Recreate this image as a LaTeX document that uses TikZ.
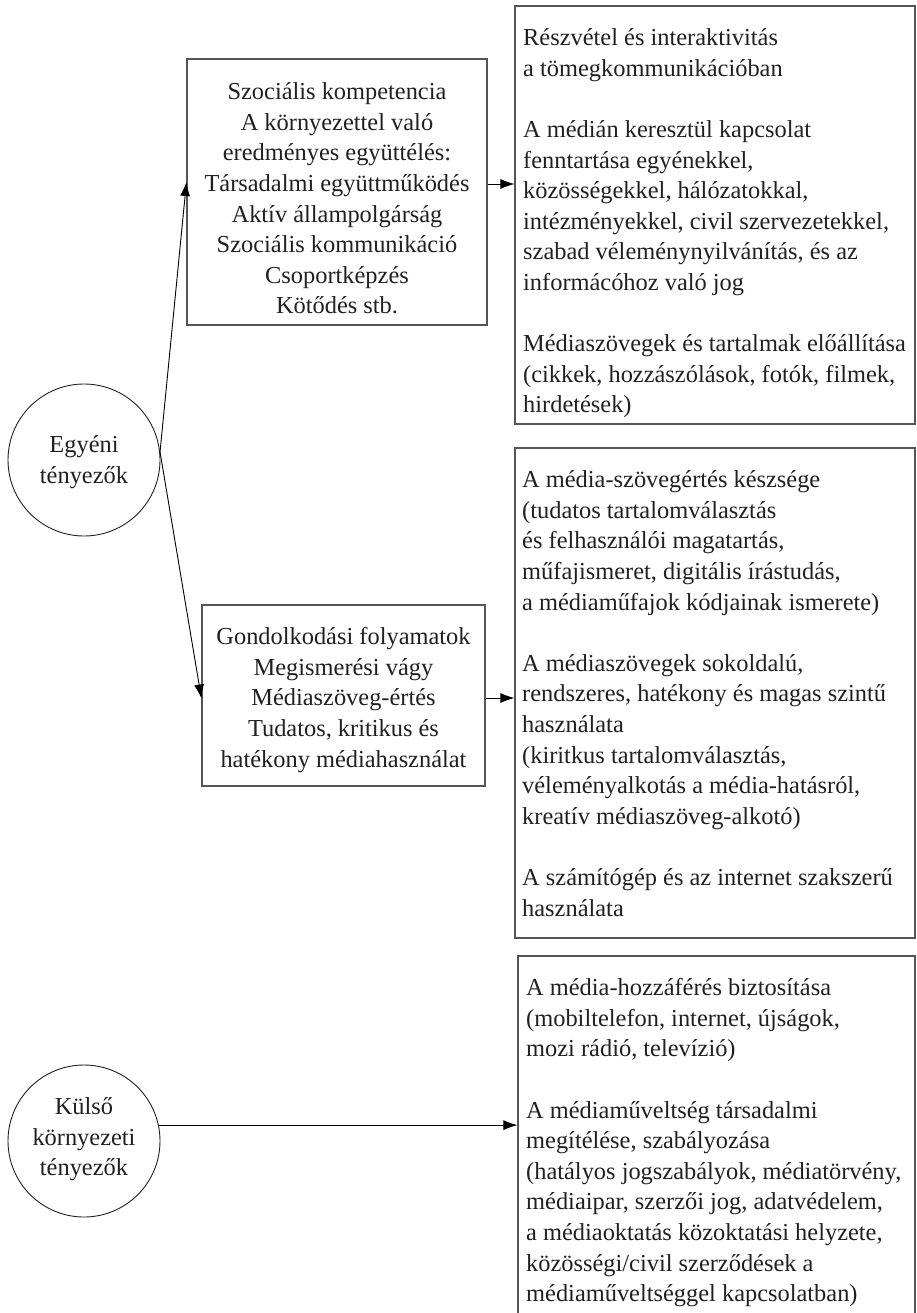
\documentclass[tikz,border=0pt]{standalone}
\usepackage{fontspec}
\setmainfont{Liberation Serif}
\usetikzlibrary{arrows.meta}
\definecolor{boxgray}{RGB}{85,85,85}
\definecolor{txtcol}{RGB}{35,31,32}
\begin{document}
\begin{tikzpicture}[x=1pt,y=-1pt,
  box/.style={draw=boxgray, line width=1.1pt, inner sep=0pt},
  ring/.style={draw=txtcol, line width=0.9pt, circle, inner sep=0pt, minimum size=152pt},
  txt/.style={inner sep=0pt, text=txtcol, font=\fontsize{24.4}{30.6}\selectfont},
  arr/.style={-{Latex[length=14pt,width=10pt]}, line width=0.9pt, draw=black}]
\useasboundingbox (0,0) rectangle (917,1313);
% boxes
\node[box, minimum width=300pt, minimum height=266pt] (s1) at (337,192) {};
\node[box, minimum width=283pt, minimum height=181pt] (s2) at (343.5,695.5) {};
\node[box, minimum width=400pt, minimum height=418pt] (b1) at (715,215) {};
\node[box, minimum width=400pt, minimum height=490pt] (b2) at (715,693) {};
\node[box, minimum width=397pt, minimum height=368pt] (b3) at (716.5,1140) {};
\node[ring] (c1) at (84,460) {};
\node[ring] (c2) at (84,1141) {};
% texts
\node[txt, anchor=north, align=center] (s1t) at (337,78) {\strut Szociális kompetencia\\A környezettel való\\eredményes együttélés:\\Társadalmi együttműködés\\Aktív állampolgárság\\Szociális kommunikáció\\Csoportképzés\\Kötődés stb.};
\node[txt, anchor=north, align=center] (s2t) at (343.5,623) {\strut Gondolkodási folyamatok\\Megismerési vágy\\Médiaszöveg-értés\\Tudatos, kritikus és\\hatékony médiahasználat};
\node[txt, anchor=north west, align=left] (b1t) at (523,24) {\strut Részvétel és interaktivitás\\a tömegkommunikációban\\\mbox{}\\A médián keresztül kapcsolat\\fenntartása egyénekkel,\\közösségekkel, hálózatokkal,\\intézményekkel, civil szervezetekkel,\\szabad véleménynyilvánítás, és az\\informácóhoz való jog\\\mbox{}\\Médiaszövegek és tartalmak előállítása\\(cikkek, hozzászólások, fotók, filmek,\\hirdetések)};
\node[txt, anchor=north west, align=left] (b2t) at (522,466) {\strut A média-szövegértés készsége\\(tudatos tartalomválasztás\\és felhasználói magatartás,\\műfajismeret, digitális írástudás,\\a médiaműfajok kódjainak ismerete)\\\mbox{}\\A médiaszövegek sokoldalú,\\rendszeres, hatékony és magas szintű\\használata\\(kiritkus tartalomválasztás,\\véleményalkotás a média-hatásról,\\kreatív médiaszöveg-alkotó)\\\mbox{}\\A számítógép és az internet szakszerű\\használata};
\node[txt, anchor=north west, align=left] (b3t) at (526,974) {\strut A média-hozzáférés biztosítása\\(mobiltelefon, internet, újságok,\\mozi rádió, televízió)\\\mbox{}\\A médiaműveltség társadalmi\\megítélése, szabályozása\\(hatályos jogszabályok, médiatörvény,\\médiaipar, szerzői jog, adatvédelem,\\a médiaoktatás közoktatási helyzete,\\közösségi/civil szerződések a\\médiaműveltséggel kapcsolatban)};
\node[txt, anchor=north, align=center] (c1t) at (84,431) {\strut Egyéni\\tényezők};
\node[txt, anchor=north, align=center] (c2t) at (84,1093) {\strut Külső\\környezeti\\tényezők};
% connectors
\draw[arr] (c1.6) -- ([yshift=10pt]s1.west);
\draw[arr] (c1.6) -- ([yshift=-3pt]s2.west);
\draw[arr] ([yshift=8pt]s1.east) -- ([yshift=8pt]s1.east -| b1.west);
\draw[arr] ([yshift=-2.5pt]s2.east) -- ([yshift=-2.5pt]s2.east -| b2.west);
\draw[arr] (c2.12) -- (c2.12 -| b3.west);
\end{tikzpicture}
\end{document}
